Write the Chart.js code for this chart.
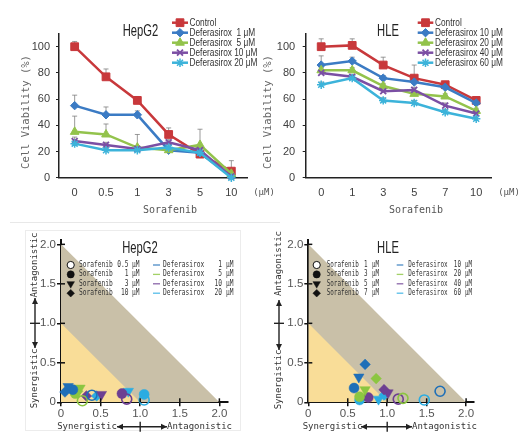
<!DOCTYPE html>
<html><head><meta charset="utf-8">
<script src="https://cdn.jsdelivr.net/npm/chart.js@4.4.0/dist/chart.umd.min.js"></script>
<style>
html,body{margin:0;padding:0;background:#fff;}
#wrap{position:relative;width:521px;height:436px;overflow:hidden;background:#fff;}
canvas{position:absolute;}
.ln{position:absolute;background:#e8e8e8;}
.bx{position:absolute;border:1px solid #ececec;}
</style></head><body>
<div id="wrap">
<div class="ln" style="left:10px;top:222px;width:270px;height:1px"></div>
<div class="bx" style="left:25px;top:230px;width:214px;height:199px"></div>
<canvas id="c1" width="280" height="215" style="left:0;top:0;width:280px;height:215px"></canvas>
<canvas id="c2" width="261" height="215" style="left:260px;top:0;width:261px;height:215px"></canvas>
<canvas id="c3" width="260" height="221" style="left:0;top:215px;width:260px;height:221px"></canvas>
<canvas id="c4" width="261" height="221" style="left:260px;top:215px;width:261px;height:221px"></canvas>
</div>
<script>
// ---------- DATA ----------
const hepCats = ['0','0.5','1','3','5','10'];
const hleCats = ['0','1','3','5','7','10'];
const hepNames = ['Control','Deferasirox  1 μM','Deferasirox  5 μM','Deferasirox 10 μM','Deferasirox 20 μM'];
const hleNames = ['Control','Deferasirox 10 μM','Deferasirox 20 μM','Deferasirox 40 μM','Deferasirox 60 μM'];

const hepControl = [100, 77, 59, 33, 18, 5];
const hepDef1    = [55, 48, 48, 21, 19, 1];
const hepDef5    = [35, 33, 23, 21, 25, 3];
const hepDef10   = [28, 25, 22, 27, 21, 1];
const hepDef20   = [26, 21, 21, 23, 19, 0];
const hepControlErr = [4, 6, 3, 5, 3, 8];
const hepDef1Err    = [8, 6, 3, 2, 2, 1];
const hepDef5Err    = [12, 8, 10, 2, 12, 2];
const hepDef10Err   = [3, 2, 2, 2, 2, 1];
const hepDef20Err   = [2, 2, 2, 2, 2, 1];

const hleControl = [100, 101, 86, 76, 71, 59];
const hleDef10   = [86, 89, 76, 73, 69, 57];
const hleDef20   = [82, 82, 70, 64, 62, 51];
const hleDef40   = [80, 77, 66, 67, 55, 49];
const hleDef60   = [71, 76, 59, 57, 50, 45];
const hleControlErr = [6, 5, 6, 10, 2, 2];
const hleDef10Err   = [7, 3, 2, 2, 2, 2];
const hleDef20Err   = [2, 2, 2, 2, 2, 2];
const hleDef40Err   = [2, 2, 2, 2, 2, 2];
const hleDef60Err   = [2, 2, 2, 2, 2, 2];

const lineTickValues = [0, 20, 40, 60, 80, 100];
const isoTickValues = [0, 0.5, 1, 1.5, 2];
const hepIsoDoses = ['0.5', '1', '3', '10'];
const hepIsoDefs  = ['1', '5', '10', '20'];
const hepIsoDef1X  = [0.39, 0.15, 0.09, 0.05];
const hepIsoDef1Y  = [0.09, 0.16, 0.20, 0.13];
const hepIsoDef5X  = [0.27, 0.18, 0.24, 0.21];
const hepIsoDef5Y  = [0.02, 0.11, 0.18, 0.14];
const hepIsoDef10X = [0.83, 0.77, 0.51, 0.32];
const hepIsoDef10Y = [0.04, 0.11, 0.10, 0.08];
const hepIsoDef20X = [1.05, 1.05, 0.85, 0.45];
const hepIsoDef20Y = [0.03, 0.10, 0.14, 0.08];

const hleIsoDoses = ['1', '3', '5', '7'];
const hleIsoDefs  = ['10', '20', '40', '60'];
const hleIsoDef10X = [1.67, 0.58, 0.64, 0.72];
const hleIsoDef10Y = [0.14, 0.18, 0.32, 0.48];
const hleIsoDef20X = [1.20, 0.65, 0.72, 0.86];
const hleIsoDef20Y = [0.05, 0.07, 0.16, 0.30];
const hleIsoDef40X = [1.14, 0.76, 1.01, 0.96];
const hleIsoDef40Y = [0.04, 0.06, 0.12, 0.16];
const hleIsoDef60X = [1.47, 0.65, 0.89, 0.96];
const hleIsoDef60Y = [0.03, 0.03, 0.04, 0.09];

// ---------- STYLES ----------
const lineColors = ['#c8383b', '#3b7bc4', '#93c34c', '#7b4fa4', '#3cb3da'];
const lineStyles = [
  {ps:'rect', r:5.5, bw:1}, {ps:'rectRot', r:4.2, bw:1}, {ps:'triangle', r:5, bw:1},
  {ps:'crossRot', r:4.2, bw:1.8}, {ps:'star', r:4.2, bw:1.5}
];
const isoColors = ['#1f6fb8', '#8cc641', '#6d3f92', '#2aace2'];
const isoStyles = ['circle', 'circle', 'triangle', 'rectRot'];
const isoRot = [0, 0, 180, 0];
const isoFilled = [false, true, true, true];
const isoRad = [5, 5, 6, 5.3];

const SANS = "'Liberation Sans', Arial, sans-serif";
const MONO = "'DejaVu Sans Mono', 'Liberation Mono', monospace";

function txt(ctx, s, x, y, font, color, align, sx, rot) {
  ctx.save();
  ctx.translate(x, y);
  if (rot) ctx.rotate(rot);
  if (sx) ctx.scale(sx, 1);
  ctx.font = font; ctx.fillStyle = color;
  ctx.textAlign = align || 'left'; ctx.textBaseline = 'middle';
  ctx.fillText(s, 0, 0);
  ctx.restore();
}
function marker(ctx, style, r, rot, x, y, fill, stroke, bw) {
  ctx.save();
  ctx.fillStyle = fill; ctx.strokeStyle = stroke; ctx.lineWidth = bw;
  Chart.helpers.drawPoint(ctx, {pointStyle: style, rotation: rot || 0, radius: r, borderWidth: bw}, x, y);
  ctx.restore();
}
function dblArrow(ctx, x1, y1, x2, y2, cx, cy) {
  ctx.save();
  ctx.strokeStyle = '#222'; ctx.fillStyle = '#222'; ctx.lineWidth = 1.4;
  ctx.beginPath(); ctx.moveTo(x1, y1); ctx.lineTo(x2, y2); ctx.stroke();
  const ang = Math.atan2(y2 - y1, x2 - x1);
  function head(x, y, a) {
    ctx.beginPath();
    ctx.moveTo(x, y);
    ctx.lineTo(x - 6 * Math.cos(a) + 3 * Math.sin(a), y - 6 * Math.sin(a) - 3 * Math.cos(a));
    ctx.lineTo(x - 6 * Math.cos(a) - 3 * Math.sin(a), y - 6 * Math.sin(a) + 3 * Math.cos(a));
    ctx.closePath(); ctx.fill();
  }
  head(x2, y2, ang); head(x1, y1, ang + Math.PI);
  const px = -Math.sin(ang), py = Math.cos(ang);
  ctx.beginPath(); ctx.moveTo(cx - 5 * px, cy - 5 * py); ctx.lineTo(cx + 5 * px, cy + 5 * py); ctx.stroke();
  ctx.restore();
}

// ---------- LINE CHARTS ----------
function makeLineChart(id, cats, series, errs, names, L) {
  const datasets = series.map((d, i) => ({
    label: names[i], data: d,
    borderColor: lineColors[i], backgroundColor: lineColors[i], borderWidth: 2.5,
    pointStyle: lineStyles[i].ps, pointRadius: lineStyles[i].r, pointBorderWidth: lineStyles[i].bw,
    pointBackgroundColor: lineColors[i], pointBorderColor: lineColors[i],
    tension: 0, clip: false, order: series.length - i
  }));
  const deco = {
    id: 'deco',
    beforeDatasetsDraw(chart) {
      const ctx = chart.ctx, xs = chart.scales.x, ys = chart.scales.y;
      ctx.save(); ctx.lineWidth = 1; ctx.strokeStyle = 'rgba(120,120,120,0.75)';
      series.forEach((d, i) => d.forEach((v, j) => {
        const x = xs.getPixelForValue(j), y0 = ys.getPixelForValue(v), y1 = ys.getPixelForValue(v + errs[i][j]);
        ctx.beginPath(); ctx.moveTo(x, y0); ctx.lineTo(x, y1);
        ctx.moveTo(x - 2.5, y1); ctx.lineTo(x + 2.5, y1); ctx.stroke();
      }));
      ctx.restore();
    },
    afterDraw(chart) {
      const ctx = chart.ctx;
      txt(ctx, L.title, L.titleX, 32, "16px " + SANS, '#222', 'center', 0.7);
      txt(ctx, 'Cell Viability (%)', L.yTitleX, 112, "10.5px " + MONO, '#666', 'center', 1, -Math.PI / 2);
      txt(ctx, 'Sorafenib', L.sorX, 210, "10px " + MONO, '#555', 'center');
      txt(ctx, '(μM)', L.umX, 193, "9px " + MONO, '#555', 'center');
      names.forEach((n, i) => {
        const y = 22.7 + 10 * i;
        ctx.save(); ctx.strokeStyle = lineColors[i]; ctx.lineWidth = 2.5;
        ctx.beginPath(); ctx.moveTo(L.lx1, y); ctx.lineTo(L.lx2, y); ctx.stroke(); ctx.restore();
        marker(ctx, lineStyles[i].ps, lineStyles[i].r, 0, (L.lx1 + L.lx2) / 2, y, lineColors[i], lineColors[i], lineStyles[i].bw);
        txt(ctx, n, L.tx, y + 0.5, "10px " + SANS, '#333', 'left', 0.83);
      });
    }
  };
  return new Chart(document.getElementById(id), {
    type: 'line',
    data: {labels: cats, datasets},
    options: {
      responsive: false, animation: false, events: [], devicePixelRatio: 1,
      layout: {padding: {left: 0, right: L.padR, top: 33.6, bottom: 0}},
      plugins: {legend: {display: false}, tooltip: {enabled: false}},
      scales: {
        x: {
          type: 'category', offset: true,
          grid: {display: false, drawTicks: false},
          border: {display: true, color: '#222', width: 1.5},
          ticks: {color: '#404040', font: {family: SANS, size: 11}, padding: 9, maxRotation: 0, autoSkip: false},
          afterFit: s => { s.height = 37.3; }
        },
        y: {
          min: 0, max: 110,
          ticks: {color: '#404040', font: {family: SANS, size: 11}, padding: L.yPad, autoSkip: false},
          afterBuildTicks: s => { s.ticks = lineTickValues.map(v => ({value: v})); },
          grid: {display: true, drawOnChartArea: false, drawTicks: true, tickLength: 3, color: '#222'},
          border: {display: true, color: '#222', width: 1.5},
          afterFit: s => { s.width = L.yW; }
        }
      }
    },
    plugins: [deco]
  });
}

makeLineChart('c1', hepCats,
  [hepControl, hepDef1, hepDef5, hepDef10, hepDef20],
  [hepControlErr, hepDef1Err, hepDef5Err, hepDef10Err, hepDef20Err],
  hepNames,
  {title: 'HepG2', titleX: 140.5, yTitleX: 26, sorX: 170, umX: 264, lx1: 172, lx2: 188, tx: 189.5, padR: 33, yW: 59, yPad: 6});

makeLineChart('c2', hleCats,
  [hleControl, hleDef10, hleDef20, hleDef40, hleDef60],
  [hleControlErr, hleDef10Err, hleDef20Err, hleDef40Err, hleDef60Err],
  hleNames,
  {title: 'HLE', titleX: 128, yTitleX: 8.5, sorX: 156, umX: 249, lx1: 157.7, lx2: 173.3, tx: 175, padR: 29.3, yW: 45.7, yPad: 7.5});

// ---------- ISOBOLOGRAMS ----------
function fmtIso(v) { return Math.abs(v) < 1e-9 ? '0' : v.toFixed(1); }
function makeIso(id, xsList, ysList, doses, defs, L) {
  const datasets = [
    {type: 'scatter', data: [{x: 0, y: 2}, {x: 2, y: 0}], showLine: true, fill: 'origin',
     backgroundColor: '#c9c0a8', borderWidth: 0, borderColor: 'rgba(0,0,0,0)', pointRadius: 0, order: 10},
    {type: 'scatter', data: [{x: 0, y: 1}, {x: 1, y: 0}], showLine: true, fill: 'origin',
     backgroundColor: '#f9dd98', borderWidth: 0, borderColor: 'rgba(0,0,0,0)', pointRadius: 0, order: 9}
  ];
  xsList.forEach((xs, i) => {
    datasets.push({
      type: 'scatter', data: xs.map((x, j) => ({x: x, y: ysList[i][j]})), showLine: false, clip: false,
      pointStyle: c => isoStyles[c.dataIndex], rotation: c => isoRot[c.dataIndex],
      pointRadius: c => isoRad[c.dataIndex],
      pointBackgroundColor: c => isoFilled[c.dataIndex] ? isoColors[i] : 'rgba(0,0,0,0)',
      pointBorderColor: isoColors[i],
      pointBorderWidth: c => isoFilled[c.dataIndex] ? 0.5 : 1.6,
      order: 1
    });
  });
  const deco = {
    id: 'isodeco',
    afterDraw(chart) {
      const ctx = chart.ctx, xs = chart.scales.x, ys = chart.scales.y;
      ctx.save(); ctx.strokeStyle = '#111'; ctx.lineWidth = 1.5;
      isoTickValues.forEach(v => {
        if (v === 0) return;
        const px = xs.getPixelForValue(v), py = ys.getPixelForValue(v);
        ctx.beginPath(); ctx.moveTo(px, ys.bottom); ctx.lineTo(px, ys.bottom - 4); ctx.stroke();
        ctx.beginPath(); ctx.moveTo(xs.left, py); ctx.lineTo(xs.left + 4, py); ctx.stroke();
      });
      ctx.restore();
      txt(ctx, L.title, L.titleX, 34, "16px " + SANS, '#222', 'center', 0.7);
      const f9 = "9px " + MONO;
      txt(ctx, 'Antagonistic', L.ytx, L.antY, f9, '#333', 'center', 1, -Math.PI / 2);
      txt(ctx, 'Synergistic', L.ytx, L.synY, f9, '#333', 'center', 1, -Math.PI / 2);
      dblArrow(ctx, L.ytx, L.ya1, L.ytx, L.ya2, L.ytx, ys.getPixelForValue(1));
      txt(ctx, 'Synergistic', L.xSynX, 211.7, f9, '#333', 'center');
      txt(ctx, 'Antagonistic', L.xAntX, 211.7, f9, '#333', 'center');
      dblArrow(ctx, L.xa1, 211.7, L.xa2, 211.7, xs.getPixelForValue(1), 211.7);
      const fl = "8px " + MONO;
      const sx = L.lsx;
      const rows = [50, 59.4, 68.8, 78.2];
      doses.forEach((d, j) => {
        const y = rows[j];
        marker(ctx, isoStyles[j], isoRad[j] * 0.72, isoRot[j], L.mx, y, isoFilled[j] ? '#111' : '#fff', '#111', isoFilled[j] ? 0.5 : 1);
        txt(ctx, 'Sorafenib', L.sx, y, fl, '#333', 'left', sx);
        txt(ctx, d, L.sdx, y, fl, '#333', 'right', sx);
        txt(ctx, 'μM', L.sux, y, fl, '#333', 'left', sx);
      });
      defs.forEach((d, i) => {
        const y = rows[i];
        ctx.save(); ctx.strokeStyle = isoColors[i]; ctx.globalAlpha = 0.8; ctx.lineWidth = 1.3;
        ctx.beginPath(); ctx.moveTo(L.dl1, y); ctx.lineTo(L.dl2, y); ctx.stroke(); ctx.restore();
        txt(ctx, 'Deferasirox', L.dx, y, fl, '#333', 'left', sx);
        txt(ctx, d, L.ddx, y, fl, '#333', 'right', sx);
        txt(ctx, 'μM', L.dux, y, fl, '#333', 'left', sx);
      });
    }
  };
  return new Chart(document.getElementById(id), {
    type: 'scatter',
    data: {datasets},
    options: {
      responsive: false, animation: false, events: [], devicePixelRatio: 1,
      layout: {padding: {left: 0, right: L.padR, top: 25.4, bottom: 0}},
      plugins: {legend: {display: false}, tooltip: {enabled: false}},
      scales: {
        x: {
          type: 'linear', min: 0, max: 2.1,
          ticks: {callback: v => fmtIso(v), color: '#555', font: {family: SANS, size: 11.5}, padding: 1, maxRotation: 0, autoSkip: false},
          afterBuildTicks: s => { s.ticks = isoTickValues.map(v => ({value: v})); },
          grid: {display: true, drawOnChartArea: false, drawTicks: true, tickLength: 4, color: '#111', lineWidth: 1.5},
          border: {display: true, color: '#111', width: 2},
          afterFit: s => { s.height = 33.7; }
        },
        y: {
          type: 'linear', min: 0, max: 2.05,
          ticks: {callback: v => fmtIso(v), color: '#555', font: {family: SANS, size: 11.5}, padding: 1, autoSkip: false},
          afterBuildTicks: s => { s.ticks = isoTickValues.map(v => ({value: v})); },
          grid: {display: true, drawOnChartArea: false, drawTicks: true, tickLength: 4, color: '#111', lineWidth: 1.5},
          border: {display: true, color: '#111', width: 2},
          afterFit: s => { s.width = L.yW; }
        }
      }
    },
    plugins: [deco]
  });
}

makeIso('c3',
  [hepIsoDef1X, hepIsoDef5X, hepIsoDef10X, hepIsoDef20X],
  [hepIsoDef1Y, hepIsoDef5Y, hepIsoDef10Y, hepIsoDef20Y],
  hepIsoDoses, hepIsoDefs,
  {title: 'HepG2', titleX: 140, padR: 32.7, yW: 61, lsx: 0.78,
   ytx: 35, antY: 50, synY: 163.5, ya1: 83, ya2: 133,
   xSynX: 87, xAntX: 199.5, xa1: 117, xa2: 167,
   mx: 70.7, sx: 79, sdx: 128.5, sux: 132, dl1: 153, dl2: 160, dx: 163, ddx: 222, dux: 226});

makeIso('c4',
  [hleIsoDef10X, hleIsoDef20X, hleIsoDef40X, hleIsoDef60X],
  [hleIsoDef10Y, hleIsoDef20Y, hleIsoDef40Y, hleIsoDef60Y],
  hleIsoDoses, hleIsoDefs,
  {title: 'HLE', titleX: 128, padR: 47, yW: 48.3, lsx: 0.74,
   ytx: 19, antY: 48.5, synY: 164.5, ya1: 85, ya2: 135,
   xSynX: 72.5, xAntX: 184.5, xa1: 101, xa2: 152,
   mx: 56.7, sx: 66.7, sdx: 107.5, sux: 112, dl1: 136.7, dl2: 143.3, dx: 148.3, ddx: 201, dux: 205});
</script>
</body></html>
